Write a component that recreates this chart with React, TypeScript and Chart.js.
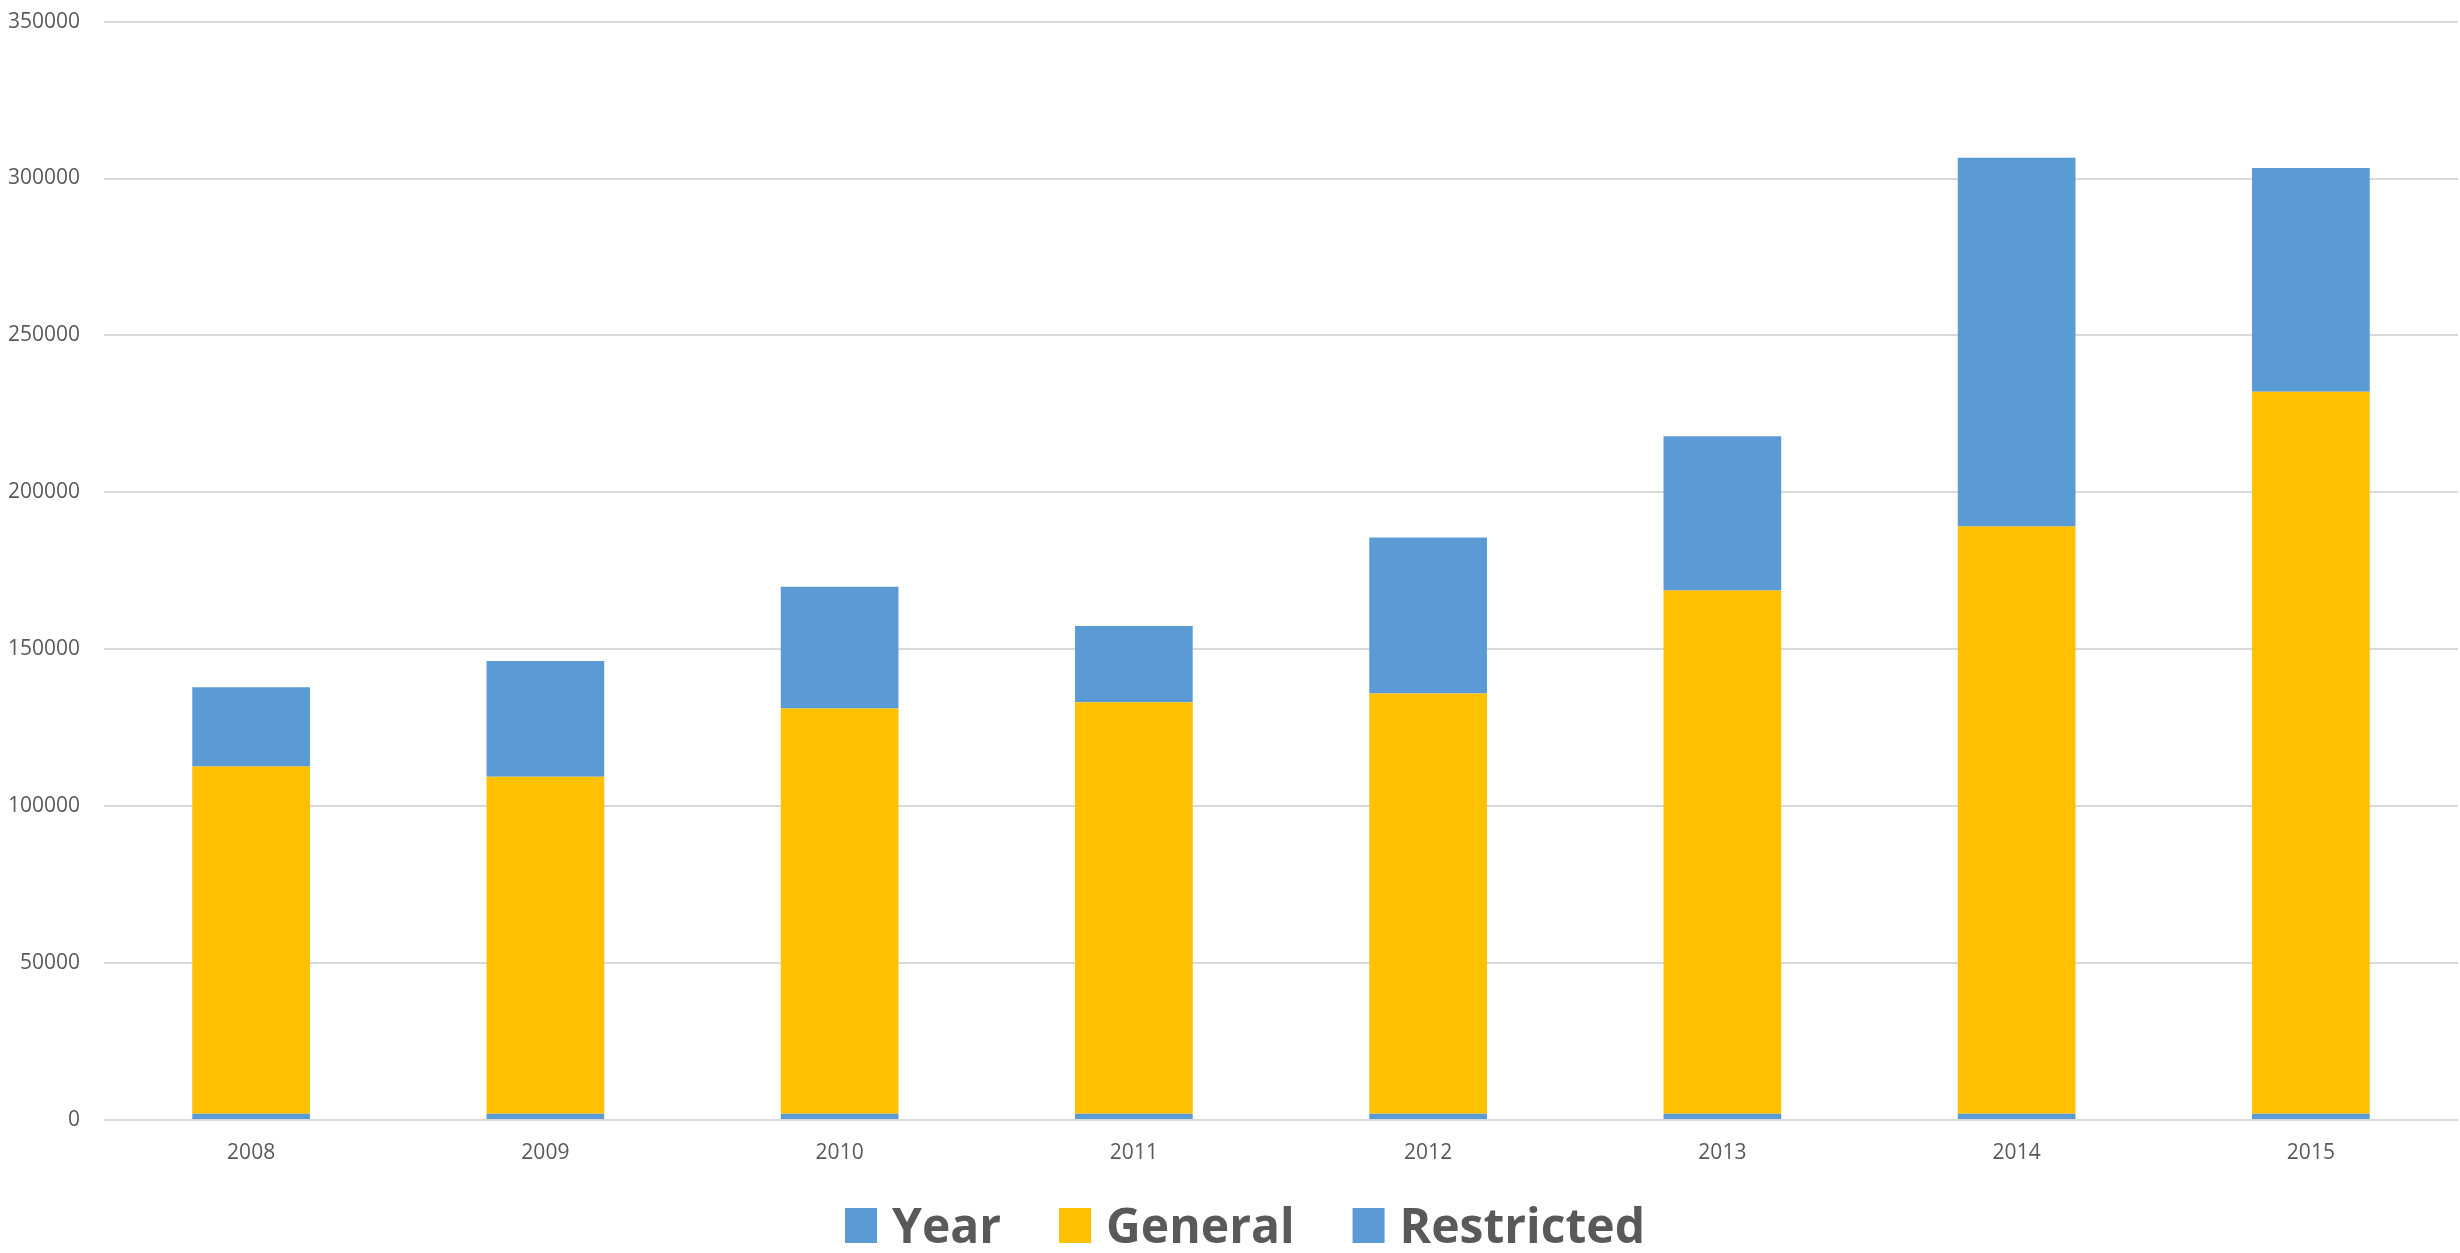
import React, { useEffect, useRef } from "react";
import { Chart, registerables } from "chart.js";

Chart.register(...registerables);

const categories = ["2008", "2009", "2010", "2011", "2012", "2013", "2014", "2015"];
const yearValues = [2008, 2009, 2010, 2011, 2012, 2013, 2014, 2015];
const generalValues = [110660, 107350, 129110, 131120, 133880, 166740, 187100, 230040];
const restrictedValues = [25230, 36900, 38810, 24270, 49720, 49090, 117470, 71260];
const yTicks = [0, 50000, 100000, 150000, 200000, 250000, 300000, 350000];

const BLUE = "#5B9BD5";
const YELLOW = "#FFC000";
const TEXT = "#595959";

const legendPlugin = {
  id: "excelLegend",
  afterDraw(chart: any) {
    const ctx = chart.ctx;
    const ds = chart.data.datasets;
    ctx.save();
    ctx.font = "bold 48px 'Open Sans', sans-serif";
    const boxW = 32;
    const boxH = 35;
    const gapText = 15;
    const gapItem = 58;
    const widths = ds.map((d: any) => ctx.measureText(d.label).width);
    let total = 0;
    widths.forEach((w: number, i: number) => {
      total += boxW + gapText + w + (i < widths.length - 1 ? gapItem : 0);
    });
    let x = 1245 - total / 2;
    const baseline = chart.height - 10;
    ds.forEach((d: any, i: number) => {
      ctx.fillStyle = d.backgroundColor;
      ctx.fillRect(x, baseline - boxH, boxW, boxH);
      x += boxW + gapText;
      ctx.fillStyle = TEXT;
      ctx.textBaseline = "alphabetic";
      ctx.textAlign = "left";
      ctx.fillText(d.label, x, baseline);
      x += widths[i] + gapItem;
    });
    ctx.restore();
  },
};

export default function App() {
  const ref = useRef<HTMLCanvasElement | null>(null);

  useEffect(() => {
    if (!ref.current) return;
    const chart = new Chart(ref.current, {
      type: "bar",
      data: {
        labels: categories,
        datasets: [
          { label: "Year", data: yearValues, backgroundColor: BLUE },
          { label: "General", data: generalValues, backgroundColor: YELLOW },
          { label: "Restricted", data: restrictedValues, backgroundColor: BLUE },
        ],
      },
      plugins: [legendPlugin],
      options: {
        animation: false,
        responsive: true,
        maintainAspectRatio: false,
        devicePixelRatio: 1,
        layout: { padding: { top: 0, right: 2, left: 0, bottom: 63 } },
        datasets: {
          bar: { categoryPercentage: 1, barPercentage: 0.4 },
        },
        plugins: {
          tooltip: { enabled: false },
          legend: { display: false },
        },
        scales: {
          x: {
            stacked: true,
            grid: { display: false },
            border: { display: false },
            ticks: {
              color: TEXT,
              font: { family: "'Open Sans', sans-serif", size: 21 },
              padding: 12,
            },
            afterFit: (scale: any) => {
              scale.height = 70;
            },
          },
          y: {
            stacked: true,
            min: 0,
            max: 350000,
            afterBuildTicks: (scale: any) => {
              scale.ticks = yTicks.map((v) => ({ value: v }));
            },
            grid: { color: "#D9D9D9", lineWidth: 2, drawTicks: false },
            border: { display: false },
            ticks: {
              color: TEXT,
              font: { family: "'Open Sans', sans-serif", size: 21 },
              padding: 24,
              callback: (v: any) => String(v),
            },
            afterFit: (scale: any) => {
              scale.width = 104;
            },
          },
        },
      },
    });
    return () => chart.destroy();
  }, []);

  return (
    <div style={{ position: "fixed", left: 0, top: -15, width: 2460, height: 1268, background: "#fff" }}>
      <canvas ref={ref} />
    </div>
  );
}
